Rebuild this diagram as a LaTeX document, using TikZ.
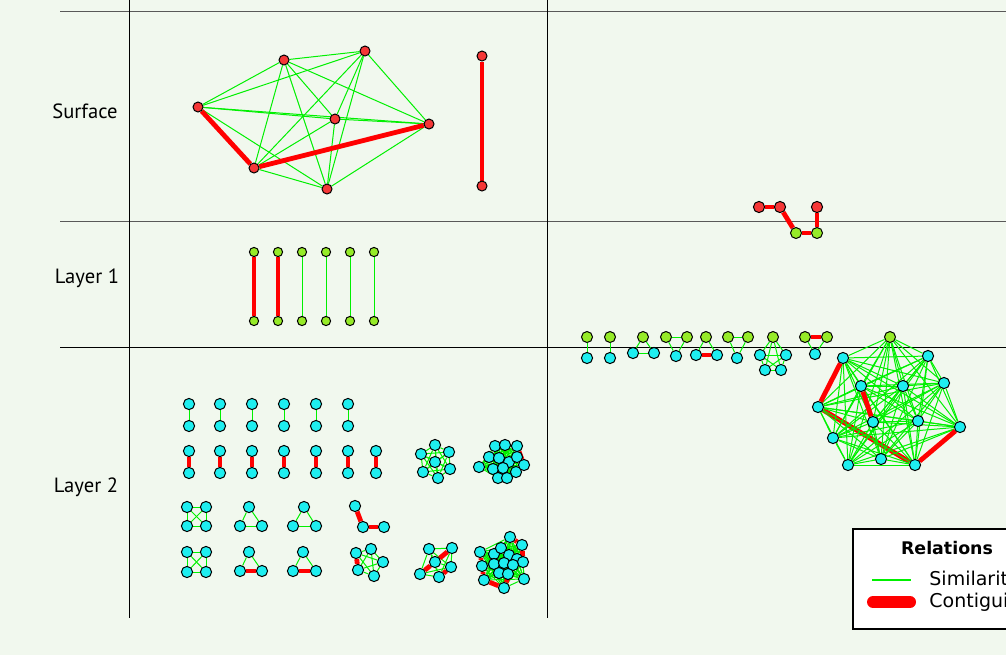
\documentclass[tikz,border=0pt]{standalone}
\usepackage{fontspec}
\setmainfont{PT Sans}
\newfontfamily\legendfont{DejaVu Sans}
\usepackage{tikz}
\definecolor{paper}{RGB}{241,248,238}
\definecolor{surfred}{RGB}{245,55,55}
\definecolor{lonegreen}{RGB}{150,235,40}
\definecolor{ltwocyan}{RGB}{30,238,240}
\definecolor{simgreen}{RGB}{0,240,0}
\definecolor{contred}{RGB}{255,0,0}
\pgfdeclarelayer{bg}
\pgfdeclarelayer{edges}
\pgfsetlayers{bg,edges,main}
\tikzset{
  vtx/.style={circle,draw=black,line width=0.5pt,inner sep=0pt},
  surf/.style={vtx,fill=surfred,minimum size=5pt},
  lone/.style={vtx,fill=lonegreen,minimum size=5.5pt},
  ltwo/.style={vtx,fill=ltwocyan,minimum size=5.6pt},
  simedge/.style={simgreen,line width=0.5pt},
  contedge/.style={contred,line width=2.4pt},
  gridline/.style={line width=0.5pt},
  rowlabel/.style={font=\fontsize{10.3}{12}\selectfont},
  legendtext/.style={font=\legendfont\fontsize{9.5}{11}\selectfont,anchor=west,inner sep=0pt}
}
\newcommand\simclique[2]{%
  \foreach \i in {1,...,#2}{%
    \foreach \j in {1,...,#2}{%
      \ifnum\i<\j \draw[simedge] (#1\i) -- (#1\j);\fi}}}

\begin{document}
\begin{tikzpicture}[x=0.5pt,y=-0.5pt]
\useasboundingbox (0,0) rectangle (1006,655);
\clip (0,0) rectangle (1006,655);
\begin{pgfonlayer}{bg}
\fill[paper] (0,0) rectangle (1006,655);
\draw[gridline,black!65] (60,11) -- (1006,11);
\draw[gridline,black!65] (60,221) -- (1006,221);
\draw[gridline] (60,347) -- (1006,347);
\draw[gridline] (129,0) -- (129,618);
\draw[gridline] (547,0) -- (547,618);
\end{pgfonlayer}

\node[rowlabel] (surface) at (85,111) {Surface};
\node[rowlabel] (layerone) at (87,278) {Layer 1};
\node[rowlabel] (layertwo) at (86,487) {Layer 2};

% surface
\foreach \n/\x/\y in {1/198/107,2/284/60,3/365/51,4/335/119,5/429/124,6/254/168,7/327/189}
  \node[surf] (sa\n) at (\x,\y) {};
\node[surf] (sp1) at (482,56) {};
\node[surf] (sp2) at (482,186) {};
\node[surf,minimum size=5.6pt] (sb1) at (759,207) {};
\node[surf,minimum size=5.6pt] (sb2) at (780,207) {};
\node[surf,minimum size=5.6pt] (sb3) at (817,207) {};
\node[lone] (lb1) at (796,233) {};
\node[lone] (lb2) at (817,233) {};

% layer 1
\foreach \n/\x in {1/254,2/278,3/302,4/326,5/350,6/374}{
  \node[lone,minimum size=4.6pt] (pu\n) at (\x,252) {};
  \node[lone,minimum size=4.6pt] (pd\n) at (\x,321) {};
}

% layer 2, left
\foreach \n/\x in {1/189,2/220,3/252,4/284,5/316,6/348}{
  \node[ltwo] (qu\n) at (\x,404) {};
  \node[ltwo] (qd\n) at (\x,426) {};
}
\foreach \n/\x in {1/189,2/220,3/252,4/284,5/316,6/348,7/376}{
  \node[ltwo] (ru\n) at (\x,451) {};
  \node[ltwo] (rd\n) at (\x,473) {};
}
\foreach \n/\x/\y in {1/435/445,2/421/454,3/449/452,4/435/462,5/423/472,6/450/469,7/438/478}
  \node[ltwo] (ka\n) at (\x,\y) {};
\foreach \n/\x/\y in {1/495/446,2/505/445,3/517/446,4/489/457,5/499/458,6/509/462,7/517/457,
  8/479/467,9/493/469,10/503/468,11/516/472,12/524/465,13/498/478,14/507/478}
  \node[ltwo] (kb\n) at (\x,\y) {};
\foreach \n/\x/\y in {1/187/507,2/206/507,3/187/526,4/206/526}
  \node[ltwo] (qa\n) at (\x,\y) {};
\foreach \n/\x/\y in {1/249/507,2/240/526,3/262/526}
  \node[ltwo] (ta\n) at (\x,\y) {};
\foreach \n/\x/\y in {1/304/507,2/293/526,3/316/526}
  \node[ltwo] (tb\n) at (\x,\y) {};
\foreach \n/\x/\y in {1/355/506,2/363/527,3/384/527}
  \node[ltwo] (pa\n) at (\x,\y) {};
\foreach \n/\x/\y in {1/187/552,2/206/552,3/187/572,4/206/572}
  \node[ltwo] (qb\n) at (\x,\y) {};
\foreach \n/\x/\y in {1/249/552,2/240/571,3/262/571}
  \node[ltwo] (tc\n) at (\x,\y) {};
\foreach \n/\x/\y in {1/303/552,2/293/571,3/316/571}
  \node[ltwo] (td\n) at (\x,\y) {};
\foreach \n/\x/\y in {1/356/553,2/371/549,3/383/562,4/358/570,5/374/576}
  \node[ltwo] (pb\n) at (\x,\y) {};
\foreach \n/\x/\y in {1/429/549,2/452/548,3/435/562,4/451/567,5/420/574,6/439/577}
  \node[ltwo] (kc\n) at (\x,\y) {};
\foreach \n/\x/\y in {1/510/537,2/522/545,3/480/552,4/494/554,5/501/548,6/509/555,7/517/559,
  8/523/562,9/482/566,10/494/564,11/504/563,12/513/565,13/499/573,14/508/574,15/484/580,
  16/524/579,17/504/588}
  \node[ltwo] (kd\n) at (\x,\y) {};

% layer 1 / layer 2, right
\node[lone] (xa1) at (587,337) {};
\node[ltwo] (xa2) at (587,358) {};
\node[lone] (xb1) at (610,337) {};
\node[ltwo] (xb2) at (610,358) {};
\node[lone] (xc1) at (643,337) {};
\node[ltwo] (xc2) at (633,353) {};
\node[ltwo] (xc3) at (654,353) {};
\node[lone] (xd1) at (666,337) {};
\node[lone] (xd2) at (687,337) {};
\node[ltwo] (xd3) at (676,356) {};
\node[lone] (xe1) at (706,337) {};
\node[ltwo] (xe2) at (696,355) {};
\node[ltwo] (xe3) at (717,355) {};
\node[lone] (xf1) at (728,337) {};
\node[lone] (xf2) at (748,337) {};
\node[ltwo] (xf3) at (737,358) {};
\node[lone] (xg1) at (773,337) {};
\foreach \n/\x/\y in {2/760/355,3/786/355,4/765/370,5/781/370}
  \node[ltwo] (xg\n) at (\x,\y) {};
\node[lone] (xh1) at (805,337) {};
\node[lone] (xh2) at (827,337) {};
\node[ltwo] (xh3) at (815,354) {};
\node[lone] (xk1) at (890,337) {};
\foreach \n/\x/\y in {2/843/358,3/928/356,4/861/386,5/903/386,6/944/383,7/818/407,8/873/422,
  9/918/421,10/960/427,11/833/438,12/881/459,13/848/465,14/915/465}
  \node[ltwo] (xk\n) at (\x,\y) {};

\begin{pgfonlayer}{edges}
\simclique{sa}{7}
\draw[contedge] (sa1) -- (sa6);
\draw[contedge] (sa6) -- (sa5);
\draw[contedge] (sp1) -- (sp2);
\draw[contedge] (sb1) -- (sb2);
\draw[contedge] (sb2) -- (lb1);
\draw[contedge] (lb1) -- (lb2);
\draw[contedge] (lb2) -- (sb3);
\foreach \n in {1,2} \draw[contedge,line width=2pt] (pu\n) -- (pd\n);
\foreach \n in {3,...,6} \draw[simedge] (pu\n) -- (pd\n);
\foreach \n in {1,...,6} \draw[simedge] (qu\n) -- (qd\n);
\foreach \n in {1,...,7} \draw[contedge] (ru\n) -- (rd\n);
\simclique{ka}{7}
\simclique{kb}{14}
\draw[contedge] (kb3) -- (kb12);
\simclique{qa}{4}
\simclique{ta}{3}
\simclique{tb}{3}
\draw[contedge] (pa1) -- (pa2);
\draw[contedge] (pa2) -- (pa3);
\simclique{qb}{4}
\draw[simedge] (tc1) -- (tc2) (tc1) -- (tc3);
\draw[contedge] (tc2) -- (tc3);
\draw[simedge] (td1) -- (td2) (td1) -- (td3);
\draw[contedge] (td2) -- (td3);
\simclique{pb}{5}
\draw[contedge] (pb1) -- (pb4);
\simclique{kc}{6}
\draw[contedge] (kc5) -- (kc3);
\draw[contedge] (kc3) -- (kc2);
\draw[contedge] (kc6) -- (kc4);
\simclique{kd}{17}
\draw[contedge] (kd1) -- (kd2);
\draw[contedge] (kd2) -- (kd8);
\draw[contedge] (kd3) -- (kd9);
\draw[contedge] (kd9) -- (kd15);
\draw[contedge] (kd15) -- (kd17);
\draw[contedge] (kd17) -- (kd12);
\draw[simedge] (xa1) -- (xa2);
\draw[simedge] (xb1) -- (xb2);
\simclique{xc}{3}
\simclique{xd}{3}
\draw[simedge] (xe1) -- (xe2) (xe1) -- (xe3);
\draw[contedge] (xe2) -- (xe3);
\simclique{xf}{3}
\simclique{xg}{5}
\draw[simedge] (xh1) -- (xh3) (xh2) -- (xh3);
\draw[contedge] (xh1) -- (xh2);
\draw[contedge] (xk7) -- (xk14);
\simclique{xk}{14}
\draw[contedge] (xk2) -- (xk7);
\draw[contedge] (xk4) -- (xk8);
\draw[contedge] (xk14) -- (xk10);
\end{pgfonlayer}

% legend
\draw[fill=white,line width=1pt] (853,529) rectangle (1040,629);
\node[font=\legendfont\bfseries\fontsize{8.7}{10}\selectfont] (reltitle) at (947,548) {Relations};
\coordinate (simA) at (872,580);
\coordinate (simB) at (911,580);
\coordinate (conA) at (873,602);
\coordinate (conB) at (910,602);
\draw[simedge,line width=1pt] (simA) -- (simB);
\draw[contedge,line width=6pt,line cap=round] (conA) -- (conB);
\node[legendtext] (simtext) at (929,580) {Similarity};
\node[legendtext] (context) at (929,602) {Contiguity};
\end{tikzpicture}
\end{document}
